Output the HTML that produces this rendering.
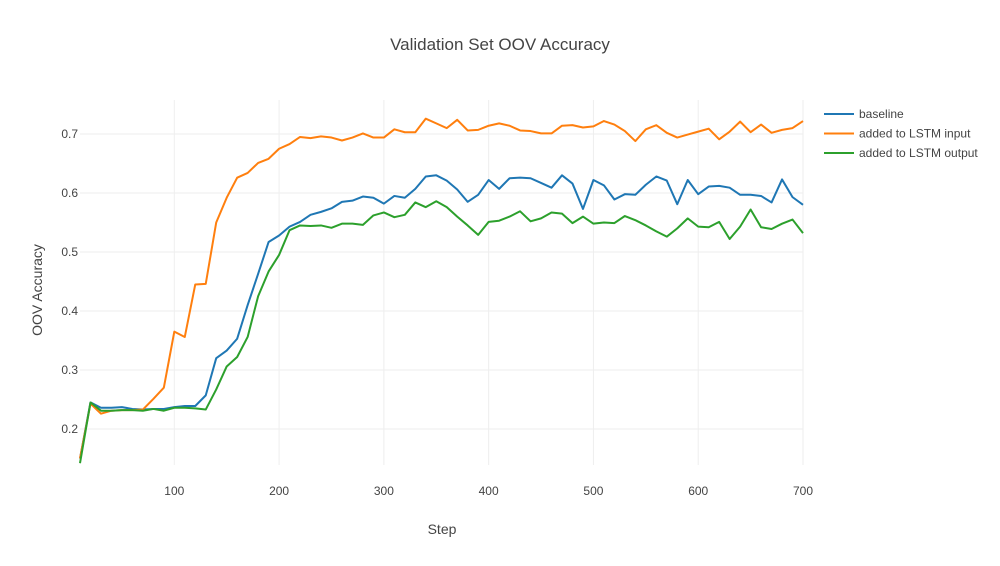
<!DOCTYPE html>
<html><head><meta charset="utf-8"><style>
body{margin:0;background:#fff;font-family:"Liberation Sans",sans-serif}
svg text{font-family:"Liberation Sans",sans-serif;fill:#444}
</style></head><body>
<svg id="c" width="1000" height="561" xmlns="http://www.w3.org/2000/svg">
<text x="500" y="50" text-anchor="middle" font-size="17">Validation Set OOV Accuracy</text>
<g id="grid"></g><g id="ticks"></g><g id="lines"></g>
<text x="442" y="534" text-anchor="middle" font-size="14">Step</text>
<text transform="translate(42,290) rotate(-90)" text-anchor="middle" font-size="14">OOV Accuracy</text>
<g id="legend"></g>
</svg>
<script>
const steps=[];for(let s=10;s<=700;s+=10)steps.push(s);
const baseline=[0.15,0.245,0.236,0.236,0.237,0.234,0.233,0.234,0.234,0.237,0.239,0.239,0.257,0.32,0.333,0.353,0.41,0.463,0.517,0.528,0.543,0.551,0.563,0.568,0.574,0.585,0.587,0.594,0.592,0.582,0.595,0.592,0.607,0.628,0.63,0.621,0.606,0.585,0.597,0.622,0.607,0.625,0.626,0.625,0.617,0.609,0.63,0.616,0.573,0.622,0.613,0.589,0.598,0.597,0.614,0.628,0.621,0.581,0.622,0.598,0.611,0.612,0.609,0.597,0.597,0.595,0.584,0.623,0.593,0.58];
const lstmInput=[0.15,0.243,0.226,0.231,0.232,0.232,0.233,0.251,0.27,0.365,0.356,0.445,0.446,0.55,0.592,0.626,0.634,0.651,0.658,0.675,0.683,0.695,0.693,0.696,0.694,0.689,0.694,0.701,0.694,0.694,0.708,0.703,0.703,0.726,0.718,0.71,0.724,0.706,0.707,0.714,0.718,0.714,0.706,0.705,0.701,0.701,0.714,0.715,0.711,0.713,0.722,0.716,0.705,0.688,0.708,0.715,0.702,0.694,0.699,0.704,0.709,0.691,0.704,0.721,0.703,0.716,0.702,0.707,0.71,0.722];
const lstmOutput=[0.142,0.245,0.231,0.231,0.232,0.232,0.231,0.234,0.231,0.236,0.236,0.235,0.233,0.267,0.306,0.322,0.356,0.425,0.467,0.495,0.537,0.545,0.544,0.545,0.541,0.548,0.548,0.546,0.562,0.567,0.559,0.563,0.584,0.576,0.586,0.576,0.56,0.545,0.529,0.551,0.553,0.56,0.569,0.552,0.557,0.567,0.565,0.549,0.56,0.548,0.55,0.549,0.561,0.554,0.545,0.535,0.526,0.54,0.557,0.543,0.542,0.551,0.522,0.543,0.572,0.542,0.539,0.548,0.555,0.532];
const xTicks=[100,200,300,400,500,600,700];
const yTicks=[0.2,0.3,0.4,0.5,0.6,0.7];
const seriesNames=["baseline","added to LSTM input","added to LSTM output"];
const colors=["#1f77b4","#ff7f0e","#2ca02c"];
const X=s=>80+(s-10)*(803-80)/690;
const Y=v=>429-(v-0.2)*590;
const NS="http://www.w3.org/2000/svg";
function mk(t,a,p){const e=document.createElementNS(NS,t);for(const k in a)e.setAttribute(k,a[k]);document.getElementById(p).appendChild(e);return e;}
xTicks.forEach(t=>{
 const l=mk('line',{x1:X(t),x2:X(t),y1:100,y2:465,stroke:'#eee','stroke-width':1},'grid');
 
 
 const tx=mk('text',{x:X(t),y:495,'text-anchor':'middle','font-size':12},'ticks');tx.textContent=t;
 
 
});
yTicks.forEach(t=>{
 const l=mk('line',{x1:80,x2:803,y1:Y(t),y2:Y(t),stroke:'#eee','stroke-width':1},'grid');
 
 
 const tx=mk('text',{x:78,y:Y(t)+4,'text-anchor':'end','font-size':12},'ticks');tx.textContent=t.toFixed(1);
 
 
});
[baseline,lstmInput,lstmOutput].forEach((d,i)=>{
 const p=mk('polyline',{points:d.map((v,j)=>X(steps[j])+','+Y(v)).join(' '),fill:'none',stroke:colors[i],'stroke-width':2,'stroke-linejoin':'round'},'lines');
 
 
 const g=mk('g',{},'legend');
 
 
 const ly=114+i*19.5;
 const ll=document.createElementNS(NS,'line');ll.setAttribute('x1',824);ll.setAttribute('x2',854);ll.setAttribute('y1',ly);ll.setAttribute('y2',ly);ll.setAttribute('stroke',colors[i]);ll.setAttribute('stroke-width',2);g.appendChild(ll);
 const lt=document.createElementNS(NS,'text');lt.setAttribute('x',859);lt.setAttribute('y',ly+4);lt.setAttribute('font-size',12);lt.textContent=seriesNames[i];g.appendChild(lt);
});
</script>
</body></html>
